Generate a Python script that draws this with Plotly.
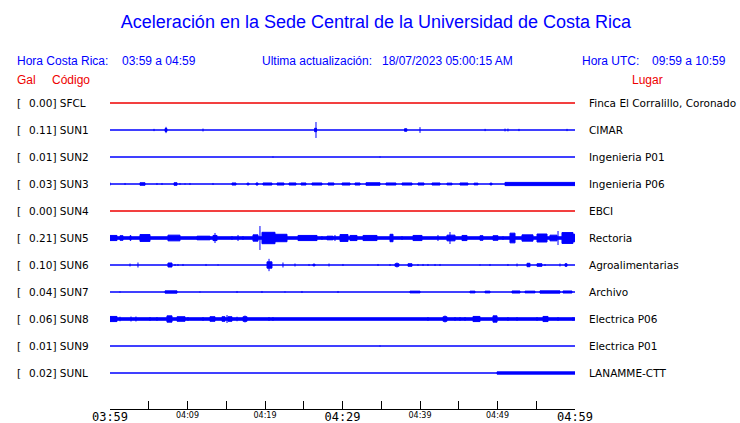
import plotly.graph_objects as go

# ---------------- data ----------------
codes = ["SFCL", "SUN1", "SUN2", "SUN3", "SUN4", "SUN5", "SUN6", "SUN7", "SUN8", "SUN9", "SUNL"]
gal_max = [0.00, 0.11, 0.01, 0.03, 0.00, 0.21, 0.10, 0.04, 0.06, 0.01, 0.02]
places = ["Finca El Corralillo, Coronado", "CIMAR", "Ingenieria P01", "Ingenieria P06", "EBCI",
          "Rectoria", "Agroalimentarias", "Archivo", "Electrica P06", "Electrica P01", "LANAMME-CTT"]
online = [False, True, True, True, False, True, True, True, True, True, True]
# background (continuous) noise amplitude in Gal
baseline = [0.0, 0.0, 0.0, 0.0, 0.0, 0.022, 0.0, 0.0, 0.022, 0.0, 0.0]

# bursts: (start minute, end minute, peak amplitude Gal); minutes since 03:59
sfcl_bursts = []
sun1_bursts = [(5.68, 5.68, 0.02), (7.1, 7.35, 0.025), (7.23, 7.23, 0.055), (12.0, 12.0, 0.025),
               (26.4, 26.65, 0.03), (26.58, 26.58, 0.14), (38.0, 38.3, 0.022), (40.0, 40.0, 0.05),
               (48.4, 48.4, 0.02), (50.97, 50.97, 0.025), (51.35, 51.35, 0.025), (52.77, 52.77, 0.02),
               (58.97, 58.97, 0.02)]
sun2_bursts = [(21.03, 21.03, 0.012), (34.84, 34.84, 0.012)]
sun3_bursts = [(0.0, 0.0, 0.026), (1.94, 1.94, 0.018), (3.87, 4.52, 0.022), (6.06, 6.06, 0.018),
               (6.71, 6.71, 0.018), (8.26, 8.65, 0.022), (9.03, 9.03, 0.018), (9.68, 9.68, 0.012),
               (10.32, 10.32, 0.018), (13.29, 13.29, 0.018), (15.74, 16.26, 0.018), (17.68, 17.94, 0.015),
               (18.84, 19.10, 0.018), (19.74, 20.90, 0.018), (21.55, 22.45, 0.018), (23.10, 24.0, 0.018),
               (24.65, 25.29, 0.018), (26.06, 27.35, 0.018), (28.13, 28.9, 0.018), (29.94, 30.97, 0.018),
               (31.61, 32.26, 0.018), (33.03, 34.84, 0.022), (35.61, 36.90, 0.018), (37.68, 38.97, 0.018),
               (39.74, 40.52, 0.018), (41.55, 42.58, 0.018), (43.48, 44.13, 0.015), (45.16, 46.19, 0.018),
               (46.97, 47.48, 0.015), (49.03, 49.29, 0.015), (50.97, 60.0, 0.028)]
sun4_bursts = []
sun5_bursts = [(0.0, 0.9, 0.045), (1.29, 1.68, 0.04), (2.58, 2.71, 0.04), (3.87, 5.16, 0.06),
               (7.48, 9.03, 0.05), (11.23, 12.9, 0.032), (13.29, 13.81, 0.045), (13.55, 13.55, 0.088),
               (15.74, 15.74, 0.035), (16.52, 16.52, 0.053), (17.16, 17.16, 0.035), (18.45, 19.1, 0.055),
               (19.35, 19.35, 0.21), (19.61, 21.29, 0.1), (21.29, 22.84, 0.065), (24.26, 26.71, 0.045),
               (27.35, 27.35, 0.035), (28.0, 28.77, 0.032), (29.03, 29.03, 0.053), (29.68, 30.71, 0.06),
               (30.97, 31.87, 0.045), (32.65, 34.45, 0.045), (36.13, 36.52, 0.065), (37.68, 37.68, 0.035),
               (39.1, 40.26, 0.045), (42.32, 42.32, 0.053), (43.48, 44.52, 0.05), (43.87, 43.87, 0.105),
               (45.42, 46.06, 0.045), (47.74, 48.13, 0.04), (49.42, 50.06, 0.04), (50.71, 50.71, 0.035),
               (51.61, 52.26, 0.085), (53.16, 54.58, 0.055), (55.1, 56.39, 0.07), (56.77, 57.68, 0.05),
               (57.81, 57.81, 0.123), (58.32, 59.74, 0.095), (59.74, 60.0, 0.065)]
sun6_bursts = [(2.58, 2.58, 0.026), (3.61, 3.61, 0.044), (7.48, 8.0, 0.035), (8.39, 8.39, 0.018),
               (8.77, 8.77, 0.018), (9.42, 9.42, 0.018), (12.39, 12.39, 0.018), (13.94, 13.94, 0.012),
               (20.26, 20.9, 0.055), (20.52, 20.52, 0.108), (22.32, 22.32, 0.044), (23.87, 23.87, 0.026),
               (25.68, 25.68, 0.018), (26.19, 26.45, 0.015), (28.26, 28.26, 0.026), (30.06, 30.06, 0.018),
               (34.58, 34.58, 0.018), (36.13, 36.13, 0.018), (36.77, 37.29, 0.022), (37.03, 37.03, 0.044),
               (38.45, 38.97, 0.022), (39.74, 39.74, 0.018), (40.39, 40.39, 0.018), (41.03, 41.03, 0.018),
               (41.94, 41.94, 0.018), (42.58, 42.58, 0.018), (47.74, 47.74, 0.012), (49.03, 49.03, 0.018),
               (51.35, 51.35, 0.018), (52.52, 52.52, 0.026), (53.81, 54.19, 0.03), (55.1, 55.74, 0.022),
               (56.13, 56.13, 0.018), (58.06, 58.06, 0.026), (58.71, 58.97, 0.022)]
sun7_bursts = [(1.29, 1.29, 0.012), (7.1, 8.65, 0.02), (11.61, 11.61, 0.012), (16.39, 16.39, 0.018),
               (19.61, 19.61, 0.018), (22.58, 22.58, 0.012), (24.77, 24.77, 0.018), (29.42, 29.42, 0.018),
               (38.71, 40.0, 0.015), (46.45, 47.1, 0.015), (48.39, 49.03, 0.015), (51.87, 52.9, 0.018),
               (53.55, 54.84, 0.015), (55.48, 58.06, 0.02), (58.45, 59.61, 0.018)]
sun8_bursts = [(0.0, 0.9, 0.045), (1.29, 1.29, 0.04), (2.71, 2.71, 0.044), (3.35, 3.35, 0.044),
               (5.16, 5.16, 0.035), (6.06, 6.06, 0.035), (7.35, 8.0, 0.055), (8.65, 9.68, 0.04),
               (10.06, 10.06, 0.035), (12.0, 12.0, 0.035), (12.9, 13.55, 0.04), (14.45, 14.84, 0.04),
               (15.1, 15.1, 0.07), (15.23, 15.74, 0.04), (16.39, 16.39, 0.04), (17.16, 17.68, 0.04),
               (17.42, 17.42, 0.061), (20.52, 20.52, 0.035), (21.03, 21.03, 0.035), (41.03, 41.03, 0.035),
               (42.97, 43.48, 0.04), (43.23, 43.23, 0.061), (44.52, 44.52, 0.035), (45.16, 45.16, 0.035),
               (45.81, 45.81, 0.035), (46.84, 47.74, 0.045), (49.42, 49.94, 0.055), (51.35, 51.35, 0.035),
               (52.52, 52.52, 0.035), (55.1, 55.1, 0.035), (55.87, 56.52, 0.045), (57.81, 57.81, 0.035),
               (59.74, 59.74, 0.035)]
sun9_bursts = [(34.84, 34.84, 0.012)]
sunl_bursts = [(49.94, 60.0, 0.02)]

bursts = [sfcl_bursts, sun1_bursts, sun2_bursts, sun3_bursts, sun4_bursts, sun5_bursts,
          sun6_bursts, sun7_bursts, sun8_bursts, sun9_bursts, sunl_bursts]

# time axis (minutes since 03:59)
t_start, t_end = 0, 60
tick_marks = [0, 5, 10, 15, 20, 25, 30, 35, 40, 45, 50, 55, 60]
major_ticks = [0, 30, 60]
major_labels = ["03:59", "04:29", "04:59"]
minor_ticks = [10, 20, 40, 50]
minor_labels = ["04:09", "04:19", "04:39", "04:49"]

title_text = "Aceleración en la Sede Central de la Universidad de Costa Rica"
hora_cr = "03:59 a 04:59"
hora_utc = "09:59 a 10:59"
ultima = "18/07/2023 05:00:15 AM"

# ---------------- style ----------------
W, H = 740, 423
L_M, R_M, T_M, B_M = 110, 165, 90, 14
PW, PH = W - L_M - R_M, H - T_M - B_M
ROW_PX = 27
FIRST_ROW_PX = 103
GAL_TO_ROW = 57.0 / ROW_PX          # display gain (rows per Gal)
BLUE = "#0000ff"
RED = "#ee0000"
HEAD_FONT = "Liberation Sans, Arial, sans-serif"
ROW_FONT = "DejaVu Sans, sans-serif"
ROW_SIZE = 10.5

y_top = (FIRST_ROW_PX - T_M) / ROW_PX
y_bot = -(T_M + PH - FIRST_ROW_PX) / ROW_PX


def px_x(px):
    return (px - L_M) / PW


def px_y(py):
    return (T_M + PH - py) / PH


def station_shape(blist, base, c):
    """Polygons (None-separated) for the baseline band and each burst."""
    g = GAL_TO_ROW
    xs = [t_start, t_end, t_end, t_start, t_start, None]
    ys = [c + g * base, c + g * base, c - g * base, c - g * base, c + g * base, None]
    for t0, t1, a in blist:
        if t1 == t0:
            xs += [t0, t0, None]
            ys += [c + g * a, c - g * a, None]
        else:
            xs += [t0, t1, t1, t0, t0, None]
            ys += [c + g * a, c + g * a, c - g * a, c - g * a, c + g * a, None]
    return xs, ys


fig = go.Figure()

for i, code in enumerate(codes):
    xs, ys = station_shape(bursts[i], baseline[i], -i)
    col = BLUE if online[i] else RED
    fig.add_trace(go.Scatter(x=xs, y=ys, mode="lines", fill="toself", fillcolor=col,
                             line=dict(color=col, width=1), hoverinfo="skip", showlegend=False))

# invisible trace to bind the minor-label axis
fig.add_trace(go.Scatter(x=[t_start, t_end], y=[y_bot, y_bot], xaxis="x2", mode="markers",
                         marker=dict(opacity=0), hoverinfo="skip", showlegend=False))

ann = []
for i, code in enumerate(codes):
    ann.append(dict(x=px_x(15), y=-i, xref="paper", yref="y", text="[", showarrow=False,
                    xanchor="left", yanchor="middle",
                    font=dict(family=ROW_FONT, size=ROW_SIZE, color="black")))
    ann.append(dict(x=px_x(27), y=-i, xref="paper", yref="y", text=f"{gal_max[i]:.2f}] {code}",
                    showarrow=False, xanchor="left", yanchor="middle",
                    font=dict(family=ROW_FONT, size=ROW_SIZE, color="black")))
    ann.append(dict(x=px_x(587), y=-i, xref="paper", yref="y", text=places[i], showarrow=False,
                    xanchor="left", yanchor="middle",
                    font=dict(family=ROW_FONT, size=ROW_SIZE, color="black")))


def head(text, px, py, color=BLUE, size=12):
    ann.append(dict(x=px_x(px), y=px_y(py), xref="paper", yref="paper", text=text, showarrow=False,
                    xanchor="left", yanchor="middle", font=dict(family=HEAD_FONT, size=size, color=color)))


head("Hora Costa Rica:", 15, 61)
head(hora_cr, 120, 61)
head("Ultima actualización:", 260, 61)
head(ultima, 380, 61)
head("Hora UTC:", 580, 61)
head(hora_utc, 650, 61)
head("Gal", 15, 80, RED)
head("Código", 50, 80, RED)
head("Lugar", 630, 80, RED)

major_text = [major_labels[major_ticks.index(t)] if t in major_ticks else "" for t in tick_marks]

fig.update_layout(
    width=W, height=H,
    margin=dict(l=L_M, r=R_M, t=T_M, b=B_M, autoexpand=False),
    paper_bgcolor="white", plot_bgcolor="white",
    title=dict(text=title_text, x=376 / W, xanchor="center", y=1 - 22 / H, yanchor="middle",
               xref="container", yref="container", automargin=False,
               font=dict(family=HEAD_FONT, size=18, color=BLUE)),
    xaxis=dict(range=[t_start, t_end], tickvals=tick_marks, ticktext=major_text, ticks="inside",
               ticklen=8, tickwidth=1, tickcolor="black", showline=True, linecolor="black", linewidth=1,
               showgrid=False, zeroline=False, automargin=False, ticklabelstandoff=-3,
               tickfont=dict(family="DejaVu Sans Mono, monospace", size=12, color="black"), fixedrange=True),
    xaxis2=dict(range=[t_start, t_end], overlaying="x", anchor="y", side="bottom", tickvals=minor_ticks,
                ticktext=minor_labels, ticks="", showline=False, showgrid=False, zeroline=False,
                automargin=False, tickfont=dict(family=ROW_FONT, size=8, color="black"), fixedrange=True),
    yaxis=dict(range=[y_bot, y_top], visible=False, fixedrange=True, automargin=False),
    annotations=ann,
    showlegend=False,
)

fig.write_html("out.html", config={"displayModeBar": False},
               post_script="document.body.style.margin='0';document.body.style.padding='0';")
